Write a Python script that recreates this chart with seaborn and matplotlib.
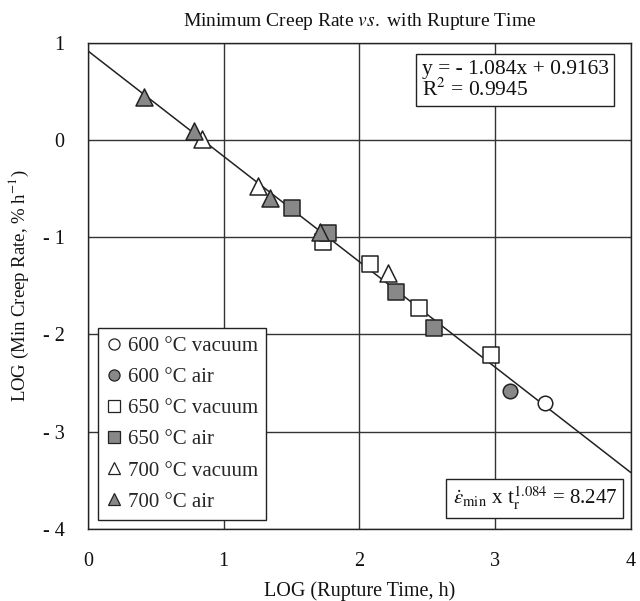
import matplotlib
matplotlib.use("Agg")
import matplotlib.pyplot as plt
import seaborn as sns
import pandas as pd
import numpy as np
from matplotlib.lines import Line2D

# ---- data ----
series_names = ["600 °C vacuum", "600 °C air", "650 °C vacuum", "650 °C air",
                "700 °C vacuum", "700 °C air"]
x_600_vac = [3.37]
y_600_vac = [-2.71]
x_600_air = [3.11]
y_600_air = [-2.58]
x_650_vac = [1.73, 2.08, 2.44, 2.97]
y_650_vac = [-1.05, -1.27, -1.73, -2.21]
x_650_air = [1.505, 1.77, 2.27, 2.55]
y_650_air = [-0.70, -0.955, -1.56, -1.93]
x_700_vac = [0.84, 1.25, 2.21]
y_700_vac = [0.01, -0.47, -1.37]
x_700_air = [0.41, 0.78, 1.34, 1.71]
y_700_air = [0.44, 0.09, -0.60, -0.95]
fit_slope = -1.084
fit_intercept = 0.9163
fit_x = [0.0, 4.0]
x_ticks = [0, 1, 2, 3, 4]
x_tick_labels = ["0", "1", "2", "3", "4"]
y_ticks = [-4, -3, -2, -1, 0, 1]
y_tick_labels = ["- 4", "- 3", "- 2", "- 1", "0", "1"]

xs = [x_600_vac, x_600_air, x_650_vac, x_650_air, x_700_vac, x_700_air]
ys = [y_600_vac, y_600_air, y_650_vac, y_650_air, y_700_vac, y_700_air]
rows = []
for name, xx, yy in zip(series_names, xs, ys):
    for a, b in zip(xx, yy):
        rows.append({"series": name, "x": a, "y": b})
df = pd.DataFrame(rows)

sns.set_theme(style="white")
plt.rcParams["font.family"] = ["Liberation Serif", "DejaVu Serif"]
plt.rcParams["mathtext.fontset"] = "stix"

fig = plt.figure(figsize=(6.4, 6.01), dpi=100)
ax = fig.add_axes([0.1375, 0.12, 0.848, 0.8087])

grey = "#888888"
styles = {
    "600 °C vacuum": ("o", "white", 110),
    "600 °C air": ("o", grey, 110),
    "650 °C vacuum": ("s", "white", 130),
    "650 °C air": ("s", grey, 130),
    "700 °C vacuum": ("^", "white", 150),
    "700 °C air": ("^", grey, 150),
}

# fit line
fit_y = [fit_slope * v + fit_intercept for v in fit_x]
sns.lineplot(x=fit_x, y=fit_y, ax=ax, color="#222222", lw=1.1, zorder=2)

for name in series_names:
    m, fc, s = styles[name]
    sub = df[df["series"] == name]
    sns.scatterplot(data=sub, x="x", y="y", ax=ax, marker=m, s=s,
                    color=fc, edgecolor="#222222", linewidth=1.1, zorder=3,
                    legend=False)

ax.set_xlim(0, 4)
ax.set_ylim(-4, 1)
ax.set_xticks(x_ticks)
ax.set_xticklabels(x_tick_labels)
ax.set_yticks(y_ticks)
ax.set_yticklabels(y_tick_labels)
ax.grid(True, color="#333333", lw=1.0)
ax.set_axisbelow(True)
for sp in ax.spines.values():
    sp.set_color("#222222")
    sp.set_linewidth(1.0)
ax.tick_params(axis="both", direction="out", length=8, width=1.0,
               colors="#222222", labelsize=14.5, pad=9)
for lab in ax.get_xticklabels() + ax.get_yticklabels():
    lab.set_color("#111111")

ax.set_xlabel("LOG (Rupture Time, h)", fontsize=14.5, color="#111111", labelpad=7)
ax.set_ylabel("LOG (Min Creep Rate, % h$^{-1}$)", fontsize=13.5, color="#111111",
              labelpad=8)
ax.set_title("Minimum Creep Rate $\\it{vs.}$ with Rupture Time", fontsize=14,
             color="#111111", pad=12)

handles = []
for name in series_names:
    m, fc, s = styles[name]
    handles.append(Line2D([], [], linestyle="none", marker=m, markersize=8,
                          markerfacecolor=fc, markeredgecolor="#222222",
                          markeredgewidth=0.9, label=name))
leg = ax.legend(handles=handles, loc="lower left", bbox_to_anchor=(0.018, 0.0185),
                fontsize=15, frameon=True, fancybox=False, handletextpad=0.25,
                handlelength=0.8, labelspacing=0.55, borderpad=0.4,
                borderaxespad=0)
leg.get_frame().set_edgecolor("#222222")
leg.get_frame().set_linewidth(1.0)
leg.get_frame().set_alpha(1)

ax.text(0.615, 0.965, "y = - 1.084x + 0.9163\nR$^2$ = 0.9945", transform=ax.transAxes,
        ha="left", va="top", fontsize=15.5, color="#111111", linespacing=1.0,
        bbox=dict(boxstyle="square,pad=0.25", fc="white", ec="#222222", lw=1.0))

ax.text(0.975, 0.035, r"$\dot{\varepsilon}_{\rm min}$ x t$_{\rm r}^{1.084}$ = 8.247",
        transform=ax.transAxes, ha="right", va="bottom", fontsize=15,
        color="#111111",
        bbox=dict(boxstyle="square,pad=0.3", fc="white", ec="#222222", lw=1.0))

fig.savefig("out.png", dpi=100)
